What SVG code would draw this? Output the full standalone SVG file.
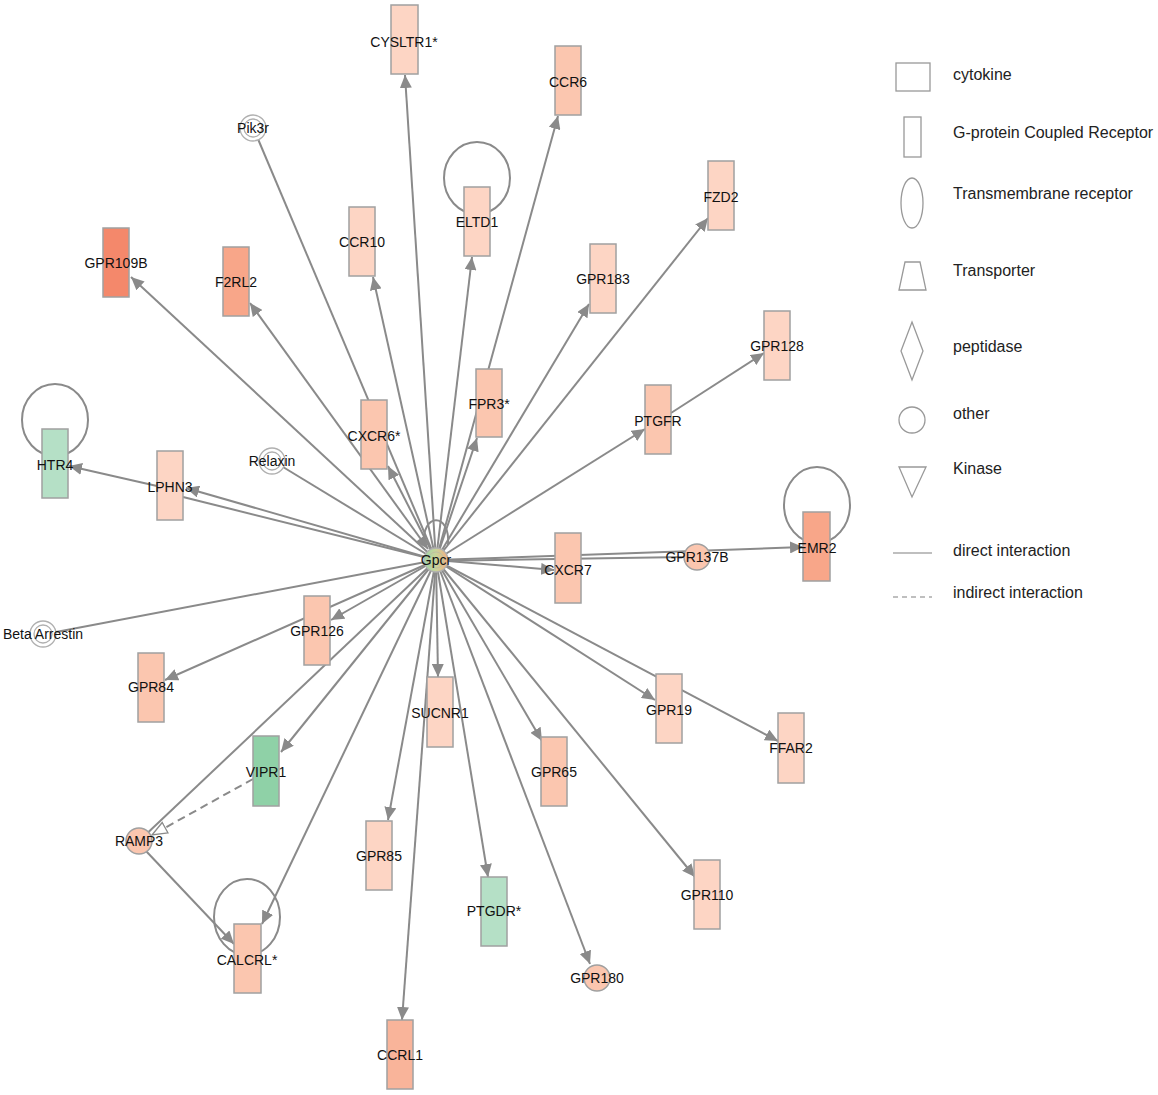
<svg xmlns="http://www.w3.org/2000/svg" width="1158" height="1095" viewBox="0 0 1158 1095">
<defs>
<style>
.e{stroke:#8a8a8a;stroke-width:2;fill:none}
.d{stroke:#8a8a8a;stroke-width:2;fill:none;stroke-dasharray:8,5}
.loop{stroke:#8a8a8a;stroke-width:2;fill:none}
.n{stroke:#a0a0a0;stroke-width:1.5}
.l1{fill:#FDD5C4}.l2{fill:#FBC6AF}.l3{fill:#F9B49A}.l4{fill:#F8A689}.l5{fill:#F4886B}
.g1{fill:#B5E0C6}.g2{fill:#8FD1A7}
.dc{fill:#fff;stroke:#b0b0b0;stroke-width:1.3}
text{font-family:"Liberation Sans",Arial,sans-serif;font-size:14px;fill:#111;text-anchor:middle}
.lg text{font-size:16px;text-anchor:start;fill:#222}
.ls{fill:#fff;stroke:#999;stroke-width:1.3}
</style>
<marker id="a" markerUnits="userSpaceOnUse" markerWidth="14" markerHeight="12" refX="13" refY="6" orient="auto">
<path d="M0,0 L13,6 L0,12 z" fill="#8a8a8a"/>
</marker>
<marker id="as" markerUnits="userSpaceOnUse" markerWidth="14" markerHeight="12" refX="0" refY="6" orient="auto">
<path d="M13,0 L0,6 L13,12 z" fill="#8a8a8a"/>
</marker>
<marker id="o" markerUnits="userSpaceOnUse" markerWidth="18" markerHeight="14" refX="16" refY="7" orient="auto">
<path d="M1,1 L16,7 L1,13 z" fill="#fff" stroke="#8a8a8a" stroke-width="1.3"/>
</marker>
<linearGradient id="gp" x1="0" y1="0" x2="1" y2="0">
<stop offset="0" stop-color="#9fd6a9"/><stop offset="0.5" stop-color="#c9d49a"/><stop offset="1" stop-color="#f5ad80"/>
</linearGradient>
</defs>
<rect width="1158" height="1095" fill="#fff"/>

<g id="connectors">
<line class="e" x1="436" y1="560" x2="405" y2="75" marker-end="url(#a)"/>
<line class="e" x1="436" y1="560" x2="558" y2="116" marker-end="url(#a)"/>
<line class="e" x1="436" y1="560" x2="373" y2="277" marker-end="url(#a)"/>
<line class="e" x1="436" y1="560" x2="472" y2="257" marker-end="url(#a)"/>
<line class="e" x1="436" y1="560" x2="708" y2="218" marker-end="url(#a)"/>
<line class="e" x1="436" y1="560" x2="589" y2="304" marker-end="url(#a)"/>
<line class="e" x1="436" y1="560" x2="645" y2="429" marker-end="url(#a)"/>
<line class="e" x1="671" y1="413" x2="764" y2="353" marker-end="url(#a)"/>
<line class="e" x1="436" y1="560" x2="477" y2="438" marker-end="url(#a)"/>
<line class="e" x1="436" y1="560" x2="388" y2="466" marker-end="url(#a)"/>
<line class="e" x1="258" y1="139" x2="436" y2="560"/>
<line class="e" x1="436" y1="560" x2="131" y2="277" marker-end="url(#a)"/>
<line class="e" x1="428" y1="549" x2="250" y2="303" marker-start="url(#as)" marker-end="url(#a)"/>
<line class="e" x1="436" y1="560" x2="186" y2="488" marker-end="url(#a)"/>
<line class="e" x1="436" y1="560" x2="183" y2="497"/>
<line class="e" x1="157" y1="486" x2="69" y2="466" marker-end="url(#a)"/>
<line class="e" x1="283" y1="467" x2="436" y2="560"/>
<line class="e" x1="56" y1="632" x2="436" y2="560"/>
<line class="e" x1="436" y1="560" x2="331" y2="620" marker-end="url(#a)"/>
<line class="e" x1="436" y1="560" x2="165" y2="680" marker-end="url(#a)"/>
<line class="e" x1="436" y1="560" x2="281" y2="752" marker-end="url(#a)"/>
<line class="e" x1="436" y1="560" x2="139" y2="841"/>
<line class="d" x1="253" y1="779" x2="152" y2="835" marker-end="url(#o)"/>
<line class="e" x1="146" y1="851" x2="234" y2="944" marker-end="url(#a)"/>
<line class="e" x1="436" y1="560" x2="262" y2="924" marker-end="url(#a)"/>
<line class="e" x1="436" y1="560" x2="438" y2="677" marker-end="url(#a)"/>
<line class="e" x1="436" y1="560" x2="388" y2="820" marker-end="url(#a)"/>
<line class="e" x1="436" y1="560" x2="402" y2="1020" marker-end="url(#a)"/>
<line class="e" x1="436" y1="560" x2="488" y2="877" marker-end="url(#a)"/>
<line class="e" x1="436" y1="560" x2="542" y2="741" marker-end="url(#a)"/>
<line class="e" x1="436" y1="560" x2="590" y2="964" marker-end="url(#a)"/>
<line class="e" x1="436" y1="560" x2="695" y2="877" marker-end="url(#a)"/>
<line class="e" x1="436" y1="560" x2="655" y2="700" marker-end="url(#a)"/>
<line class="e" x1="436" y1="560" x2="778" y2="741" marker-end="url(#a)"/>
<line class="e" x1="436" y1="560" x2="554" y2="570" marker-end="url(#a)"/>
<line class="e" x1="436" y1="560" x2="803" y2="547" marker-end="url(#a)"/>
<line class="e" x1="436" y1="561" x2="685" y2="557"/>
<path class="loop" d="M424,545 C421,512 451,512 448,545"/>
<ellipse class="loop" cx="477" cy="178" rx="33" ry="36"/>
<ellipse class="loop" cx="55" cy="420" rx="33" ry="36"/>
<ellipse class="loop" cx="247" cy="917" rx="33" ry="38"/>
<ellipse class="loop" cx="817" cy="505" rx="33" ry="38"/>
</g>

<g id="CYSLTR1"><rect class="n l1" x="391" y="5" width="27" height="69"/><text x="404" y="47">CYSLTR1*</text></g>
<g id="CCR6"><rect class="n l2" x="555" y="46" width="26" height="69"/><text x="568" y="87">CCR6</text></g>
<g id="Pik3r"><circle class="dc" cx="253" cy="128" r="13"/><circle class="dc" cx="253" cy="128" r="9"/><text x="253" y="133">Pik3r</text></g>
<g id="CCR10"><rect class="n l1" x="349" y="207" width="26" height="69"/><text x="362" y="247">CCR10</text></g>
<g id="ELTD1"><rect class="n l1" x="464" y="187" width="26" height="69"/><text x="477" y="227">ELTD1</text></g>
<g id="FZD2"><rect class="n l1" x="708" y="161" width="26" height="69"/><text x="721" y="202">FZD2</text></g>
<g id="GPR109B"><rect class="n l5" x="103" y="228" width="26" height="69"/><text x="116" y="268">GPR109B</text></g>
<g id="F2RL2"><rect class="n l4" x="223" y="247" width="26" height="69"/><text x="236" y="287">F2RL2</text></g>
<g id="GPR183"><rect class="n l1" x="590" y="244" width="26" height="69"/><text x="603" y="284">GPR183</text></g>
<g id="GPR128"><rect class="n l1" x="764" y="311" width="26" height="69"/><text x="777" y="351">GPR128</text></g>
<g id="FPR3"><rect class="n l2" x="476" y="369" width="26" height="68"/><text x="489" y="409">FPR3*</text></g>
<g id="PTGFR"><rect class="n l2" x="645" y="385" width="26" height="69"/><text x="658" y="426">PTGFR</text></g>
<g id="CXCR6"><rect class="n l2" x="361" y="400" width="26" height="69"/><text x="374" y="441">CXCR6*</text></g>
<g id="HTR4"><rect class="n g1" x="42" y="429" width="26" height="69"/><text x="55" y="470">HTR4</text></g>
<g id="LPHN3"><rect class="n l1" x="157" y="451" width="26" height="69"/><text x="170" y="492">LPHN3</text></g>
<g id="Relaxin"><circle class="dc" cx="272" cy="461" r="13"/><circle class="dc" cx="272" cy="461" r="9"/><text x="272" y="466">Relaxin</text></g>
<g id="CXCR7"><rect class="n l2" x="555" y="533" width="26" height="70"/><text x="568" y="575">CXCR7</text></g>
<g id="GPR137B"><circle class="n l2" cx="697" cy="557" r="13"/><text x="697" y="562">GPR137B</text></g>
<g id="EMR2"><rect class="n l4" x="803" y="512" width="27" height="69"/><text x="817" y="553">EMR2</text></g>
<g id="BetaArrestin"><circle class="dc" cx="43" cy="634" r="13"/><circle class="dc" cx="43" cy="634" r="9"/><text x="43" y="639">Beta Arrestin</text></g>
<g id="GPR126"><rect class="n l2" x="304" y="596" width="26" height="69"/><text x="317" y="636">GPR126</text></g>
<g id="GPR84"><rect class="n l2" x="138" y="653" width="26" height="69"/><text x="151" y="692">GPR84</text></g>
<g id="SUCNR1"><rect class="n l1" x="427" y="677" width="26" height="70"/><text x="440" y="718">SUCNR1</text></g>
<g id="GPR19"><rect class="n l1" x="656" y="674" width="26" height="69"/><text x="669" y="715">GPR19</text></g>
<g id="FFAR2"><rect class="n l1" x="778" y="713" width="26" height="70"/><text x="791" y="753">FFAR2</text></g>
<g id="VIPR1"><rect class="n g2" x="253" y="736" width="26" height="70"/><text x="266" y="777">VIPR1</text></g>
<g id="GPR65"><rect class="n l2" x="541" y="737" width="26" height="69"/><text x="554" y="777">GPR65</text></g>
<g id="GPR85"><rect class="n l1" x="366" y="821" width="26" height="69"/><text x="379" y="861">GPR85</text></g>
<g id="RAMP3"><circle class="n l2" cx="139" cy="841" r="13"/><text x="139" y="846">RAMP3</text></g>
<g id="GPR110"><rect class="n l1" x="694" y="860" width="26" height="69"/><text x="707" y="900">GPR110</text></g>
<g id="PTGDR"><rect class="n g1" x="481" y="877" width="26" height="69"/><text x="494" y="916">PTGDR*</text></g>
<g id="CALCRL"><rect class="n l2" x="234" y="924" width="27" height="69"/><text x="247" y="965">CALCRL*</text></g>
<g id="GPR180"><circle class="n l2" cx="597" cy="978" r="13"/><text x="597" y="983">GPR180</text></g>
<g id="CCRL1"><rect class="n l3" x="387" y="1020" width="26" height="69"/><text x="400" y="1060">CCRL1</text></g>
<g id="Gpcr"><circle cx="436" cy="560" r="12" fill="url(#gp)" stroke="#b0b0b0" stroke-width="1.3"/><circle cx="436" cy="560" r="8" fill="none" stroke="#c0c0a0" stroke-width="1"/><text x="436" y="565">Gpcr</text></g>

<g id="legend" class="lg">
<rect class="ls" x="896" y="63" width="34" height="28"/><text x="953" y="80">cytokine</text>
<rect class="ls" x="904" y="117" width="17" height="40"/><text x="953" y="138">G-protein Coupled Receptor</text>
<ellipse class="ls" cx="912" cy="203" rx="11" ry="25"/><text x="953" y="199">Transmembrane receptor</text>
<path class="ls" d="M905,262 L920,262 L926,290 L899,290 Z"/><text x="953" y="276">Transporter</text>
<path class="ls" d="M912,322 L923,351 L912,380 L901,351 Z"/><text x="953" y="352">peptidase</text>
<circle class="ls" cx="912" cy="420" r="13"/><text x="953" y="419">other</text>
<path class="ls" d="M899,467 L926,467 L912,497 Z"/><text x="953" y="474">Kinase</text>
<line x1="893" y1="553" x2="932" y2="553" stroke="#aaa" stroke-width="1.3"/><text x="953" y="556">direct interaction</text>
<line x1="893" y1="597" x2="932" y2="597" stroke="#aaa" stroke-width="1.3" stroke-dasharray="5,4"/><text x="953" y="598">indirect interaction</text>
</g>
</svg>
